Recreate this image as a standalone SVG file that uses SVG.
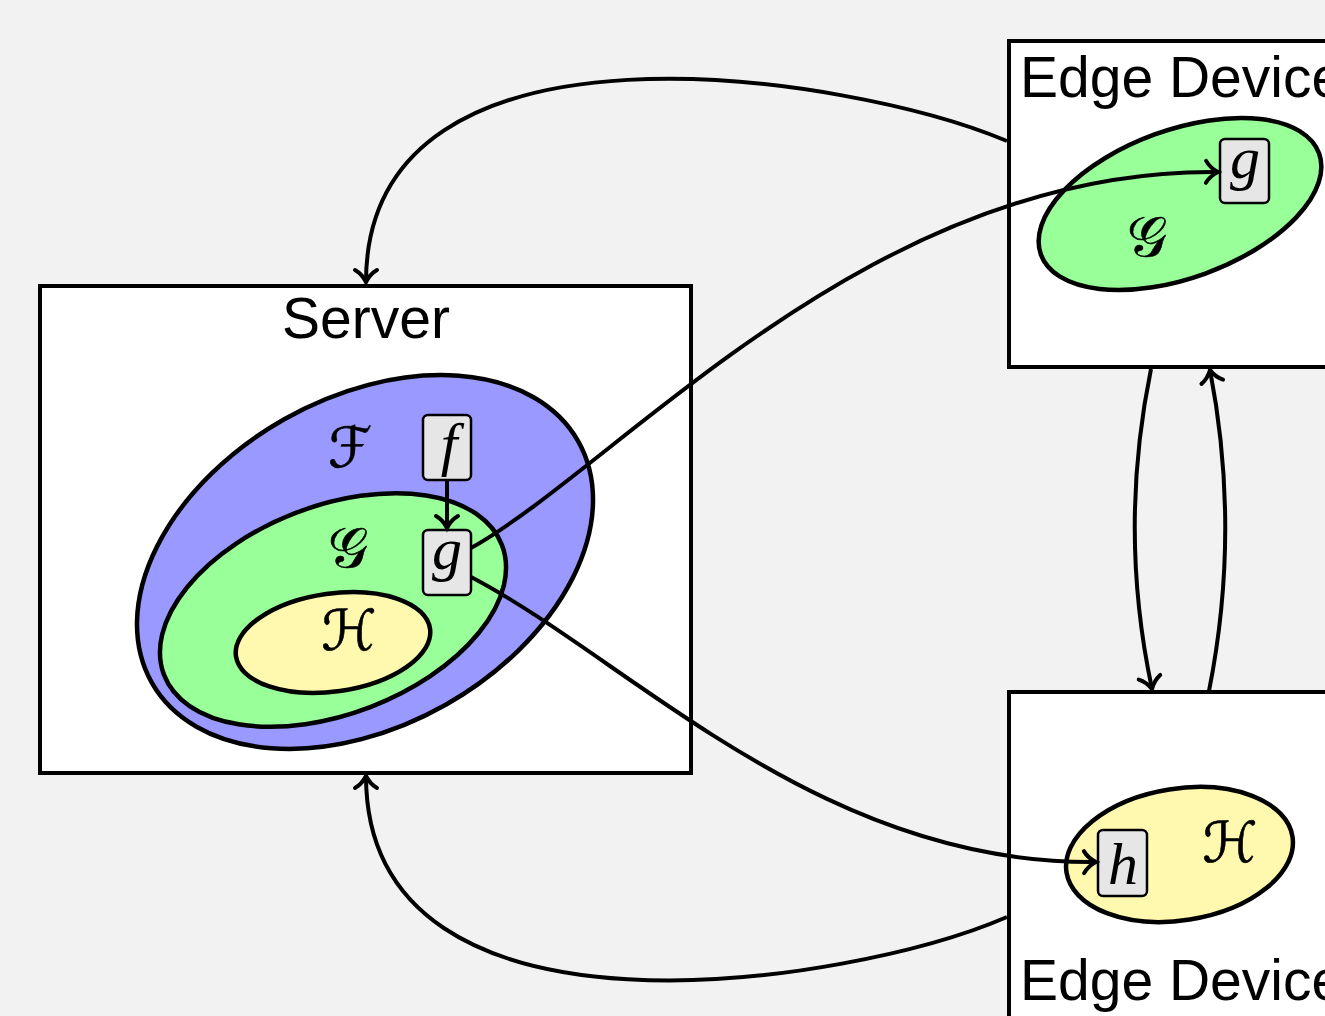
<svg xmlns="http://www.w3.org/2000/svg" width="1325" height="1016" viewBox="0 0 1325 1016">
  <style>
    .frame { fill: #ffffff; stroke: #000000; stroke-width: 4; }
    .blue { fill: #9999ff; stroke: #000000; stroke-width: 4.5; }
    .green { fill: #99ff99; stroke: #000000; stroke-width: 4.5; }
    .yellow { fill: #fff9b0; stroke: #000000; stroke-width: 4.5; }
    .fn { fill: #e6e6e6; stroke: #000000; stroke-width: 2.5; }
    .title { font-family: "Liberation Sans", Arial, sans-serif; font-size: 57px; fill: #000000; }
    .var { font-family: "Liberation Serif", "DejaVu Serif", serif; font-style: italic; font-size: 60px; fill: #000000; text-anchor: middle; }
    .set { font-family: "DejaVu Serif", "DejaVu Sans", serif; font-size: 56px; fill: #000000; text-anchor: middle; stroke: #000000; stroke-width: 0.6; }
    .link { fill: none; stroke: #000000; stroke-width: 4; marker-end: url(#to); }
  </style>
  <defs>
    <marker id="to" markerUnits="userSpaceOnUse" markerWidth="30" markerHeight="30" viewBox="-15 -15 30 30" refX="0" refY="0" orient="auto">
      <path d="M -12 -11 C -8 -4, -2 -1, 0 0 C -2 1, -8 4, -12 11" fill="none" stroke="#000000" stroke-width="4" stroke-linecap="round"/>
    </marker>
  </defs>

  <rect width="1325" height="1016" fill="#f2f2f2"/>

  <g id="server">
    <rect class="frame" x="40" y="286" width="651" height="487"/>
    <text class="title" x="366" y="338" text-anchor="middle">Server</text>
    <ellipse class="blue" cx="365" cy="562" rx="245" ry="164" transform="rotate(-29.5 365 562)"/>
    <ellipse class="green" cx="333" cy="610" rx="181" ry="104" transform="rotate(-21 333 610)"/>
    <ellipse class="yellow" cx="333" cy="642.5" rx="98" ry="49" transform="rotate(-8 333 642.5)"/>
    <text class="set" x="350" y="467">ℱ</text>
    <text class="set" x="348" y="567">𝒢</text>
    <text class="set" x="349" y="650">ℋ</text>
    <g id="server-f">
      <rect class="fn" x="423" y="415" width="48" height="65" rx="5"/>
      <text class="var" x="449" y="464">f</text>
    </g>
    <g id="server-g">
      <rect class="fn" x="423" y="530" width="48" height="65" rx="5"/>
      <text class="var" x="447" y="569">g</text>
    </g>
  </g>

  <g id="edge-device-1">
    <rect class="frame" x="1009" y="41" width="400" height="326"/>
    <text class="title" x="1020" y="97">Edge Device</text>
    <ellipse class="green" cx="1180" cy="204" rx="148" ry="74" transform="rotate(-20 1180 204)"/>
    <text class="set" x="1147" y="256">𝒢</text>
    <g id="edge1-g">
      <rect class="fn" x="1220" y="139" width="49" height="64" rx="5"/>
      <text class="var" x="1245" y="178">g</text>
    </g>
  </g>

  <g id="edge-device-2">
    <rect class="frame" x="1009" y="692" width="400" height="400"/>
    <text class="title" x="1020" y="1000">Edge Device</text>
    <ellipse class="yellow" cx="1179.5" cy="854.5" rx="114.4" ry="65.9" transform="rotate(-9 1179.5 854.5)"/>
    <text class="set" x="1230" y="862">ℋ</text>
    <g id="edge2-h">
      <rect class="fn" x="1098" y="830" width="49" height="66" rx="5"/>
      <text class="var" x="1123" y="884">h</text>
    </g>
  </g>

  <g id="connectors">
    <path class="link" d="M 447 480 L 447 528"/>
    <path class="link" d="M 1007 141 C 850 75, 366 -3, 366 282"/>
    <path class="link" d="M 1007 917 C 850 985, 366 1062, 366 776"/>
    <path class="link" d="M 471 548 C 620 465, 870 168, 1218 172"/>
    <path class="link" d="M 471 577 C 630 660, 820 865, 1096 862"/>
    <path class="link" d="M 1151 369 Q 1118 530 1152 689"/>
    <path class="link" d="M 1209 691 Q 1241 530 1210 370"/>
  </g>
</svg>
